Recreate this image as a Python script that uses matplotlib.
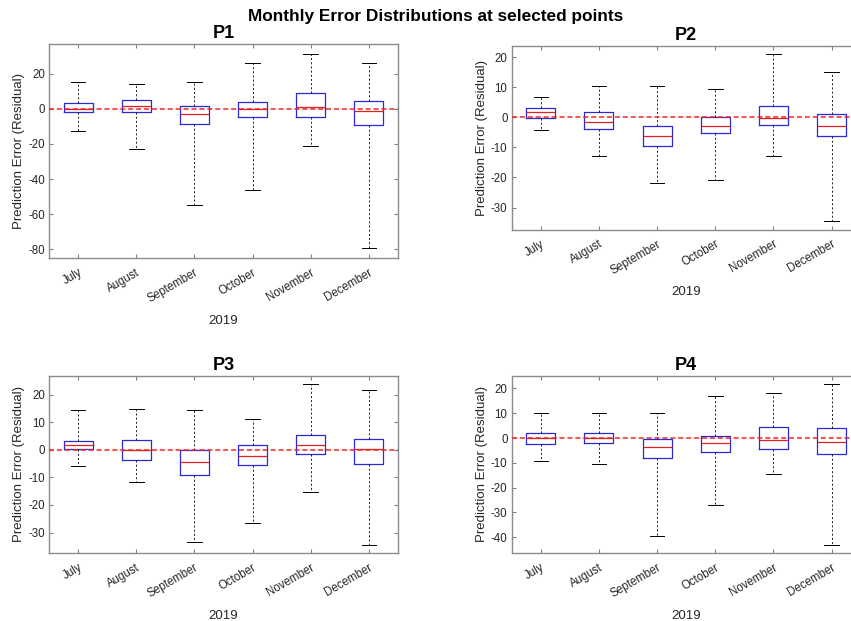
import matplotlib
matplotlib.use("Agg")
import matplotlib.pyplot as plt
from matplotlib.ticker import MultipleLocator

plt.rcParams['font.family'] = ['Liberation Sans', 'DejaVu Sans']
plt.rcParams['axes.unicode_minus'] = False

months = ['July', 'August', 'September', 'October', 'November', 'December']
year_label = '2019'
panel_names = ['P1', 'P2', 'P3', 'P4']

# box statistics (whisker low, q1, median, q3, whisker high)
p1_whislo = [-12.9, -23.1, -54.8, -46.1, -21.4, -79.4]
p1_q1 = [-2.1, -2.1, -8.9, -4.9, -4.5, -9.3]
p1_med = [0.0, 1.3, -3.2, -0.4, 1.1, -1.5]
p1_q3 = [3.0, 4.7, 1.5, 3.8, 8.7, 4.5]
p1_whishi = [15.2, 13.8, 15.4, 26.0, 31.3, 25.8]

p2_whislo = [-4.2, -13.0, -21.9, -20.9, -12.7, -34.6]
p2_q1 = [-0.2, -3.7, -9.6, -5.3, -2.6, -6.3]
p2_med = [1.8, -1.6, -6.2, -2.9, -0.1, -3.0]
p2_q3 = [3.1, 1.8, -2.7, 0.0, 3.9, 1.0]
p2_whishi = [6.7, 10.3, 10.4, 9.6, 21.1, 15.2]

p3_whislo = [-5.8, -11.8, -33.5, -26.5, -15.2, -34.6]
p3_q1 = [0.2, -3.6, -9.0, -5.5, -1.4, -5.2]
p3_med = [1.8, -0.2, -4.3, -2.4, 1.8, 0.1]
p3_q3 = [3.3, 3.6, -0.1, 1.8, 5.4, 4.0]
p3_whishi = [14.3, 14.8, 14.3, 11.3, 23.9, 21.6]

p4_whislo = [-9.3, -10.6, -39.3, -26.8, -14.5, -43.2]
p4_q1 = [-2.3, -1.9, -7.9, -5.5, -4.4, -6.6]
p4_med = [0.1, 0.0, -3.6, -1.9, -0.9, -1.7]
p4_q3 = [2.0, 2.0, -0.3, 0.9, 4.6, 4.0]
p4_whishi = [10.2, 10.2, 10.2, 16.8, 18.0, 21.9]

panels = [
    (p1_whislo, p1_q1, p1_med, p1_q3, p1_whishi),
    (p2_whislo, p2_q1, p2_med, p2_q3, p2_whishi),
    (p3_whislo, p3_q1, p3_med, p3_q3, p3_whishi),
    (p4_whislo, p4_q1, p4_med, p4_q3, p4_whishi),
]

W, H = 851, 621
fig = plt.figure(figsize=(W / 100, H / 100), dpi=100)

# axes boxes in pixels: left, top, right, bottom (right column runs past the edge)
boxes_px = [
    (49, 44, 398, 258),
    (511.7, 45.7, 860.7, 229.7),
    (49, 375.7, 398, 553.3),
    (511.7, 375.7, 860.7, 553.3),
]
steps = [20, 10, 10, 10]
gray = '0.15'

for name, stats_cols, (l, t, r, b), step in zip(panel_names, panels, boxes_px, steps):
    ax = fig.add_axes([l / W, 1 - b / H, (r - l) / W, (b - t) / H])
    whislo, q1, med, q3, whishi = stats_cols
    stats = []
    for i in range(len(months)):
        stats.append(dict(med=med[i], q1=q1[i], q3=q3[i],
                          whislo=whislo[i], whishi=whishi[i], fliers=[]))
    ax.bxp(stats, positions=range(1, len(months) + 1), widths=0.5,
           showfliers=False, manage_ticks=False,
           boxprops=dict(color='#2a2ad8', linewidth=0.9),
           medianprops=dict(color='#e02020', linewidth=0.9),
           whiskerprops=dict(color='black', linewidth=0.6, linestyle=(0, (2.5, 2.5))),
           capprops=dict(color='black', linewidth=0.7))
    ax.axhline(0, color='#ee2222', alpha=0.75, linewidth=1.5, dashes=(2.4, 1.4), zorder=5)

    lo, hi = min(whislo), max(whishi)
    pad = 0.05 * (hi - lo)
    ax.set_ylim(lo - pad, hi + pad)
    ax.set_xlim(0.5, len(months) + 0.5)
    ax.yaxis.set_major_locator(MultipleLocator(step))
    ax.set_xticks(range(1, len(months) + 1))
    ax.set_xticklabels(months, rotation=30, ha='right', rotation_mode='anchor')

    ax.tick_params(direction='in', top=True, right=True, length=3, width=0.8,
                   labelsize=8.3, colors='0.5', labelcolor=gray)
    ax.tick_params(axis='x', pad=6)
    ax.tick_params(axis='y', pad=3)
    for sp in ax.spines.values():
        sp.set_color('0.55')
        sp.set_linewidth(1.0)

    ax.set_title(name, fontsize=13, fontweight='bold', pad=4)
    ax.set_ylabel('Prediction Error (Residual)', fontsize=9.5, color=gray, labelpad=2)
    ax.set_xlabel(year_label, fontsize=9.5, color=gray, labelpad=7)

fig.text(436 / W, 1 - 17 / H, 'Monthly Error Distributions at selected points',
         ha='center', va='center', fontsize=12.4, fontweight='bold')

fig.savefig('out.png', dpi=100)
